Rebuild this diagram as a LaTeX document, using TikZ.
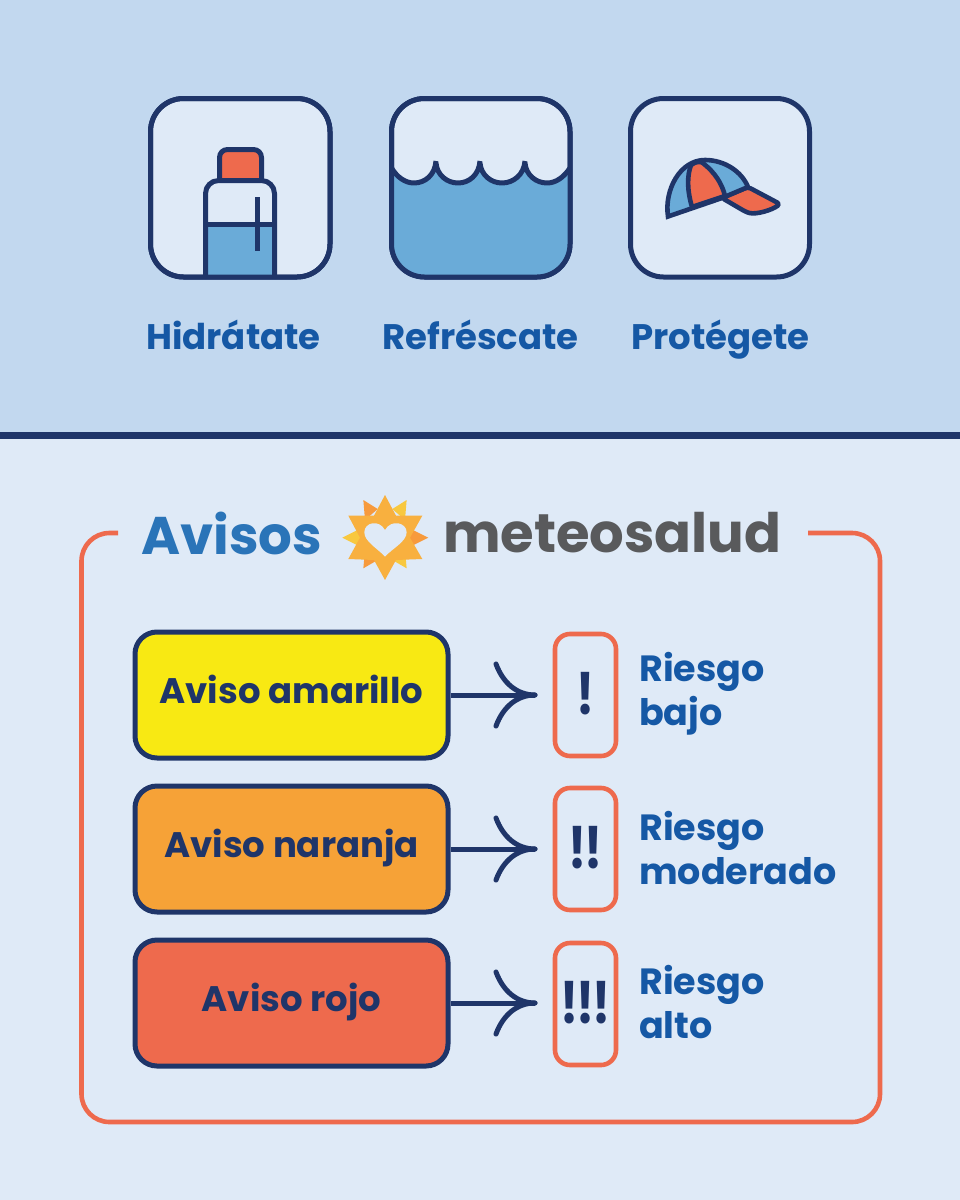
\documentclass[tikz,border=0pt]{standalone}
\usepackage{fontspec}
\setmainfont{Poppins}
\usetikzlibrary{calc}
\definecolor{panelA}{HTML}{C2D8EF}
\definecolor{panelB}{HTML}{DFEAF7}
\definecolor{navy}{HTML}{1F3569}
\definecolor{coral}{HTML}{EE6A4D}
\definecolor{water}{HTML}{6AABD8}
\definecolor{labelblue}{HTML}{1558A5}
\definecolor{avisosblue}{HTML}{2A74B8}
\definecolor{meteogray}{HTML}{595A5C}
\definecolor{sunmain}{HTML}{F8B03F}
\definecolor{sundark}{HTML}{F79A3C}
\definecolor{sunlight}{HTML}{F8C83F}
\definecolor{yellowbox}{HTML}{F8E913}
\definecolor{orangebox}{HTML}{F6A237}
\newcommand{\bangs}[1]{\scalebox{0.92}[1.16]{#1}}
\tikzset{
  x=1pt,y=-1pt,
  iconbox/.style={draw=navy,line width=5pt,rounded corners=33pt,fill=panelB},
  iconline/.style={draw=navy,line width=5pt,line join=round},
  toplabel/.style={font=\fontsize{35.5}{38}\selectfont\bfseries,text=labelblue,anchor=base},
  avisobox/.style={draw=navy,line width=5pt,rounded corners=22pt,minimum width=313pt,minimum height=126pt,inner sep=0pt,
    font=\fontsize{35.5}{38}\selectfont\bfseries,text=navy,text height=20pt,text depth=4pt},
  badge/.style={draw=coral,line width=4.6pt,rounded corners=15pt,minimum width=61pt,minimum height=122pt,inner sep=0pt,
    font=\fontsize{50}{50}\selectfont\bfseries,text=navy,text height=38pt,text depth=0pt},
  risklabel/.style={font=\fontsize{36.5}{44}\selectfont\bfseries,text=labelblue,align=left,anchor=west,inner sep=0pt},
  conn/.style={draw=navy,line width=5pt},
  barb/.style={draw=navy,line width=5pt,line cap=round},
}
\begin{document}
\begin{tikzpicture}
\useasboundingbox (0,0) rectangle (960,1200);
\fill[panelA] (0,0) rectangle (960,435);
\fill[panelB] (0,435) rectangle (960,1200);
\fill[navy] (0,432) rectangle (960,439);

% --- icon 1: bottle
\draw[iconbox] (150.5,98.5) rectangle (330,277);
\draw[iconline,fill=coral,rounded corners=8pt] (219.5,181) -- (219.5,149.5) -- (261.5,149.5) -- (261.5,181);
\fill[panelB,rounded corners=13pt] (205.5,277) -- (205.5,180.5) -- (274.5,180.5) -- (274.5,277) -- cycle;
\fill[water] (205.5,224) rectangle (274.5,277);
\draw[iconline,rounded corners=13pt] (205.5,277) -- (205.5,180.5) -- (274.5,180.5) -- (274.5,277);
\draw[iconline] (205.5,224) -- (274.5,224);
\draw[iconline] (257,197) -- (257,251);
\draw[iconline,rounded corners=33pt] (150.5,98.5) rectangle (330,277);

% --- icon 2: wave
\draw[iconbox] (391.5,98.5) rectangle (570,277);
\begin{scope}
\clip[rounded corners=33pt] (391.5,98.5) rectangle (570,277);
\fill[water] (391.5,168) .. controls (397,177) and (405,183) .. (414,183)
  .. controls (425,183) and (435,175) .. (436,163)
  .. controls (437,175) and (447,183) .. (458,183)
  .. controls (469,183) and (479,175) .. (480,163)
  .. controls (481,175) and (491,183) .. (502,183)
  .. controls (513,183) and (524,175) .. (525,163)
  .. controls (526,175) and (536,183) .. (547,183)
  .. controls (556,183) and (564,177) .. (570,168) -- (570,277) -- (391.5,277) -- cycle;
\end{scope}
\draw[iconline,line cap=butt] (391.5,168) .. controls (397,177) and (405,183) .. (414,183)
  .. controls (425,183) and (435,175) .. (436,161)
  (436,163) .. controls (437,175) and (447,183) .. (458,183)
  .. controls (469,183) and (479,175) .. (480,161)
  (480,163) .. controls (481,175) and (491,183) .. (502,183)
  .. controls (513,183) and (524,175) .. (525,161)
  (525,163) .. controls (526,175) and (536,183) .. (547,183)
  .. controls (556,183) and (564,177) .. (570,168);
\draw[iconline,rounded corners=33pt] (391.5,98.5) rectangle (570,277);

% --- icon 3: cap
\draw[iconbox] (630.5,98.5) rectangle (809.5,277);
\begin{scope}[iconline,line width=4.6pt,miter limit=10]
\draw[fill=coral,rounded corners=3pt] (722,198) -- (748,187) -- (780,204) .. controls (772,210) and (756,215) .. (746,212) -- cycle;
\draw[fill=water,line join=miter] (668,216.5) .. controls (664,190) and (680,160) .. (705,160)
  .. controls (725,160) and (742,172) .. (748,187) -- (722,198) -- cycle;
\draw[fill=coral] (691,165) .. controls (696,161) and (702,161) .. (704,164)
  .. controls (714,172) and (722,183) .. (725,196) -- (692,207) .. controls (687,190) and (687,176) .. (691,165) -- cycle;
\end{scope}

\node[toplabel] (t1) at (233.5,349) {Hidrátate};
\node[toplabel] (t2) at (480.5,349) {Refréscate};
\node[toplabel] (t3) at (720.5,349) {Protégete};

% --- frame
\draw[coral,line width=4.6pt,rounded corners=28pt]
  (118,533) -- (81.5,533) -- (81.5,1122) -- (880,1122) -- (880,533) -- (808,533);

\node[font=\fontsize{53}{56}\selectfont\bfseries,text=avisosblue,anchor=base west,inner sep=0pt] (avisos) at (141,554) {Avisos};
\node[font=\fontsize{54.4}{58}\selectfont\bfseries,text=meteogray,anchor=base west,inner sep=0pt] (meteo) at (443,552) {meteosalud};

% --- sun logo
\begin{scope}[shift={(335,485)},x=0.3333pt,y=-0.3333pt]
\fill[sundark] (85,45) -- (128,72) -- (90,105) -- cycle;
\fill[sunlight] (215,45) -- (172,72) -- (210,105) -- cycle;
\fill[sunlight] (22,158) -- (78,130) -- (78,186) -- cycle;
\fill[sundark] (280,158) -- (224,130) -- (224,186) -- cycle;
\fill[sundark] (85,250) -- (128,225) -- (90,195) -- cycle;
\fill[sunlight] (215,250) -- (172,225) -- (210,195) -- cycle;
\fill[sunmain] (150,30) -- (183,92) -- (262,92) -- (225,158) -- (262,222) -- (183,225) -- (150,285)
  -- (117,225) -- (40,222) -- (75,158) -- (40,92) -- (117,92) -- cycle;
\fill[panelB] (150,215) .. controls (130,192) and (88,170) .. (88,142)
  .. controls (88,112) and (132,102) .. (150,135)
  .. controls (168,102) and (215,112) .. (215,142)
  .. controls (215,170) and (170,192) .. (150,215) -- cycle;
\end{scope}

% --- rows
\node[avisobox,fill=yellowbox] (a1) at (291.5,695) {Aviso amarillo};
\node[avisobox,fill=orangebox] (a2) at (291.5,849) {Aviso naranja};
\node[avisobox,fill=coral] (a3) at (291.5,1003) {Aviso rojo};

\node[badge] (b1) at (585.5,695) {\bangs{!}};
\node[badge] (b2) at (585.5,849) {\bangs{!\kern-3pt!}};
\node[badge] (b3) at (585.5,1004) {\bangs{!\kern-2pt!\kern-2pt!}};

\coordinate (tip1) at (535,695);
\coordinate (tip2) at (535,849);
\coordinate (tip3) at (535,1003);
\foreach \i in {1,2,3}{
  \draw[conn] (a\i.east) -- (tip\i);
  \draw[barb] ($(tip\i)+(-39,-31)$) .. controls ($(tip\i)+(-32,-12)$) and ($(tip\i)+(-18,0)$) .. (tip\i);
  \draw[barb] ($(tip\i)+(-39,31)$) .. controls ($(tip\i)+(-32,12)$) and ($(tip\i)+(-18,0)$) .. (tip\i);
}

\node[risklabel] (r1) at (639,694) {Riesgo\\bajo};
\node[risklabel] (r2) at (639,848) {Riesgo\\moderado};
\node[risklabel] (r3) at (639,1002) {Riesgo\\alto};
\end{tikzpicture}
\end{document}
